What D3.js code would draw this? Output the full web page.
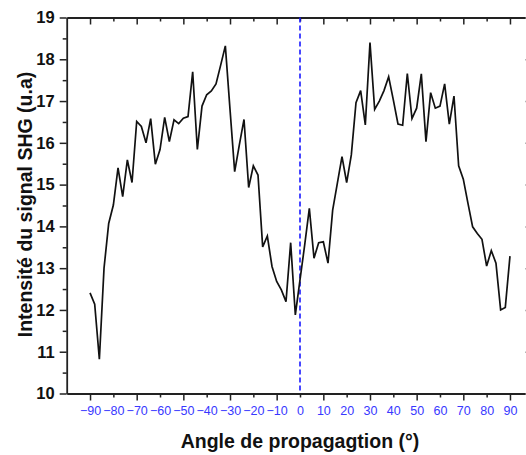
<!DOCTYPE html>
<html>
<head>
<meta charset="utf-8">
<script src="https://cdn.jsdelivr.net/npm/d3@7"></script>
<style>
  html, body { margin: 0; padding: 0; background: #fff; }
  svg { display: block; }
</style>
</head>
<body>
<svg id="chart" width="526" height="455"></svg>
<script>
// Angles (degrees), step 2 from -90 to 90
const angles = d3.range(-90, 91, 2);
// SHG signal intensity (u.a)
const intensity = [
  12.41, 12.14, 10.82, 13.00, 14.07, 14.51, 15.40, 14.71, 15.59, 15.05,
  16.51, 16.39, 16.00, 16.58, 15.49, 15.84, 16.61, 16.03, 16.55, 16.46,
  16.59, 16.63, 17.70, 15.84, 16.88, 17.15, 17.24, 17.41, 17.86, 18.32,
  16.80, 15.31, 15.95, 16.56, 14.93, 15.45, 15.23, 13.51, 13.77, 13.04,
  12.68, 12.48, 12.20, 13.61, 11.88, 12.72, 13.55, 14.43, 13.24, 13.61,
  13.63, 13.12, 14.39, 15.03, 15.67, 15.05, 15.71, 16.96, 17.25, 16.43,
  18.40, 16.80, 17.00, 17.25, 17.58, 17.03, 16.45, 16.42, 17.66, 16.58,
  16.83, 17.65, 16.03, 17.20, 16.83, 16.88, 17.41, 16.45, 17.12, 15.45,
  15.13, 14.55, 13.99, 13.83, 13.69, 13.05, 13.42, 13.12, 12.00, 12.06,
  13.29
];
const xTickValues = d3.range(-90, 91, 10);
const yTickValues = d3.range(10, 20, 1);
const xLabel = "Angle de propagagtion (°)";
const yLabel = "Intensité du signal SHG (u.a)";

const data = angles.map((a, i) => ({a, v: intensity[i]}));

const svg = d3.select("#chart");
const pL = 66.7, pR = 533.3, pT = 17.5, pB = 393.5;
const x = d3.scaleLinear().domain([-100, 100]).range([pL, pR]);
const y = d3.scaleLinear().domain([10, 19]).range([pB, pT]);

const axisColor = "#222";
const fontFam = "'Liberation Sans', Arial, Helvetica, sans-serif";

const xMinor = xTickValues.filter(v => Math.abs(v) % 20 === 0);
const xMajor = xTickValues.filter(v => Math.abs(v) % 20 === 10);
const yMinor = d3.range(10.5, 19, 1);

function styleAxis(g) {
  g.selectAll("path.domain").attr("stroke", axisColor).attr("stroke-width", 1.8);
  g.selectAll(".tick line").attr("stroke", axisColor).attr("stroke-width", 1.5);
}

// bottom axis
const gb = svg.append("g").attr("transform", `translate(0,${pB})`)
  .call(d3.axisBottom(x).tickValues(xMajor).tickSize(7).tickSizeOuter(0).tickFormat(""));
styleAxis(gb);
const gbm = svg.append("g").attr("transform", `translate(0,${pB})`)
  .call(d3.axisBottom(x).tickValues(xMinor).tickSize(4).tickSizeOuter(0).tickFormat(""));
styleAxis(gbm);
gbm.select("path.domain").remove();
const gbl = svg.append("g").attr("transform", `translate(0,${pB})`)
  .call(d3.axisBottom(x).tickValues(xTickValues).tickSize(0).tickPadding(13).tickFormat(d3.format("d")));
gbl.select("path.domain").remove();
gbl.selectAll(".tick text")
  .attr("fill", "#3838ff")
  .style("font-family", fontFam)
  .style("font-size", "12.5px");

// top axis (inward ticks)
const gt = svg.append("g").attr("transform", `translate(0,${pT})`)
  .call(d3.axisTop(x).tickValues(xMajor).tickSize(-7).tickSizeOuter(0).tickFormat(""));
styleAxis(gt);
const gtm = svg.append("g").attr("transform", `translate(0,${pT})`)
  .call(d3.axisTop(x).tickValues(xMinor).tickSize(-4).tickSizeOuter(0).tickFormat(""));
styleAxis(gtm);
gtm.select("path.domain").remove();

// left axis
const gl = svg.append("g").attr("transform", `translate(${pL},0)`)
  .call(d3.axisLeft(y).tickValues(yTickValues).tickSize(7).tickSizeOuter(0).tickPadding(5));
styleAxis(gl);
gl.selectAll(".tick text")
  .attr("fill", "#111")
  .style("font-family", fontFam)
  .style("font-size", "16.5px")
  .style("font-weight", "bold");
const glm = svg.append("g").attr("transform", `translate(${pL},0)`)
  .call(d3.axisLeft(y).tickValues(yMinor).tickSize(4).tickSizeOuter(0).tickFormat(""));
styleAxis(glm);
glm.select("path.domain").remove();

// right axis (inward ticks)
const gr = svg.append("g").attr("transform", `translate(${pR},0)`)
  .call(d3.axisRight(y).tickValues(yTickValues).tickSize(-8).tickSizeOuter(0).tickFormat(""));
styleAxis(gr);
gr.selectAll(".tick line").attr("stroke", "#999");

// blue dashed line at 0
svg.append("line")
  .attr("x1", x(0)).attr("x2", x(0))
  .attr("y1", pT).attr("y2", pB)
  .attr("stroke", "#1a1aff")
  .attr("stroke-width", 1.6)
  .attr("stroke-dasharray", "5,3");

// data line
const line = d3.line().x(d => x(d.a)).y(d => y(d.v));
svg.append("path")
  .datum(data)
  .attr("d", line)
  .attr("fill", "none")
  .attr("stroke", "#111")
  .attr("stroke-width", 1.7)
  .attr("stroke-linejoin", "miter");

// axis titles
svg.append("text")
  .attr("x", 300).attr("y", 448)
  .attr("text-anchor", "middle")
  .attr("fill", "#111")
  .style("font-family", fontFam)
  .style("font-size", "19.5px")
  .style("font-weight", "bold")
  .text(xLabel);

svg.append("text")
  .attr("transform", `translate(32,${(pT + pB) / 2 - 1}) rotate(-90)`)
  .attr("text-anchor", "middle")
  .attr("fill", "#111")
  .style("font-family", fontFam)
  .style("font-size", "19.5px")
  .style("font-weight", "bold")
  .text(yLabel);
</script>
</body>
</html>
